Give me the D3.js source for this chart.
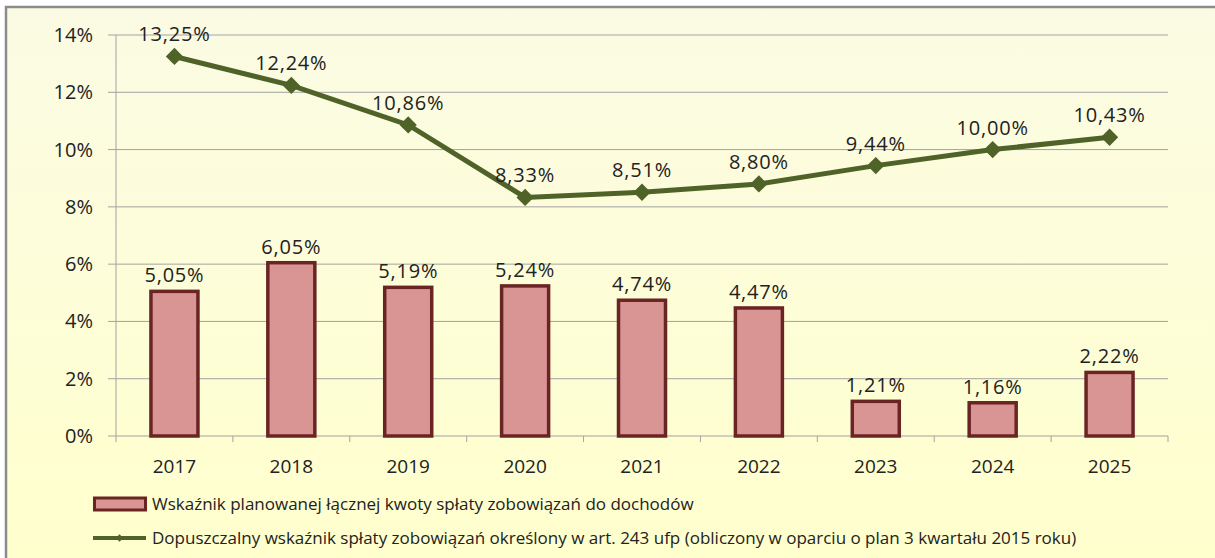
<!DOCTYPE html>
<html>
<head>
<meta charset="utf-8">
<script src="https://cdn.jsdelivr.net/npm/d3@7"></script>
<style>
  body { margin: 0; background: #fff; }
  svg text { font-family: "Open Sans", "DejaVu Sans", sans-serif; fill: #222; }
</style>
</head>
<body>
<div id="chart"></div>
<script>
// chart values
let years = ["2017", "2018", "2019", "2020", "2021", "2022", "2023", "2024", "2025"];
let barValues = [5.05, 6.05, 5.19, 5.24, 4.74, 4.47, 1.21, 1.16, 2.22];
let lineValues = [13.25, 12.24, 10.86, 8.33, 8.51, 8.80, 9.44, 10.00, 10.43];
let yTicks = [0, 2, 4, 6, 8, 10, 12, 14];
let legendLabels = [
    "Wskaźnik planowanej łącznej kwoty spłaty zobowiązań do dochodów",
    "Dopuszczalny wskaźnik spłaty zobowiązań określony w art. 243 ufp (obliczony w oparciu o plan 3 kwartału 2015 roku)"
];

let width = 1215, height = 558;
let margin = {left: 116, right: 47, top: 35, bottom: 122};

let svg = d3.select("#chart").append("svg")
    .attr("width", width)
    .attr("height", height);

// background gradient
let grad = svg.append("defs").append("linearGradient")
    .attr("id", "bg").attr("x1", 0).attr("y1", 0).attr("x2", 0).attr("y2", 1);
grad.append("stop").attr("offset", "0%").attr("stop-color", "#fbfbe4");
grad.append("stop").attr("offset", "100%").attr("stop-color", "#ffffcc");

svg.append("rect")
    .attr("x", 6).attr("y", 7)
    .attr("width", width + 10).attr("height", height + 10)
    .attr("fill", "url(#bg)")
    .attr("stroke", "#8c8c8c")
    .attr("stroke-width", 2.5);

let g = svg.append("g").attr("transform", `translate(${margin.left}, ${margin.top})`);
let innerW = width - margin.left - margin.right;
let innerH = height - margin.top - margin.bottom;

let x = d3.scaleBand().domain(years).range([0, innerW]).paddingInner(0).paddingOuter(0);
let y = d3.scaleLinear().domain([0, 14]).range([innerH, 0]);

// gridlines
g.append("g").selectAll("line").data(yTicks).enter().append("line")
    .attr("x1", -8).attr("x2", innerW)
    .attr("y1", d => y(d)).attr("y2", d => y(d))
    .attr("stroke", "#a3a3a3").attr("stroke-width", 1);

// y axis line
g.append("line").attr("x1", 0).attr("x2", 0).attr("y1", 0).attr("y2", innerH)
    .attr("stroke", "#a3a3a3");

// y tick labels
g.append("g").selectAll("text").data(yTicks).enter().append("text")
    .attr("x", -23).attr("y", d => y(d)).attr("dy", "0.35em")
    .style("text-anchor", "end").style("font-size", "20px")
    .text(d => d + "%");

// x axis ticks between categories
let xAxis = g.append("g").attr("transform", `translate(0, ${innerH})`);
let boundaries = d3.range(years.length + 1);
xAxis.selectAll("line").data(boundaries).enter().append("line")
    .attr("x1", d => d * x.step()).attr("x2", d => d * x.step())
    .attr("y1", 0).attr("y2", 6).attr("stroke", "#a3a3a3");
xAxis.selectAll("text").data(years).enter().append("text")
    .attr("x", d => x(d) + x.bandwidth() / 2).attr("y", 37)
    .style("text-anchor", "middle").style("font-size", "19px")
    .text(d => d);

// bars
let barW = 47;
g.append("g").selectAll("rect").data(barValues).enter().append("rect")
    .attr("x", (d, i) => x(years[i]) + x.bandwidth() / 2 - barW / 2)
    .attr("y", d => y(d))
    .attr("width", barW)
    .attr("height", d => innerH - y(d))
    .attr("fill", "#d99594")
    .attr("stroke", "#6b2424")
    .attr("stroke-width", 3.5);

let fmt = v => v.toFixed(2).replace(".", ",") + "%";

g.append("g").selectAll("text").data(barValues).enter().append("text")
    .attr("x", (d, i) => x(years[i]) + x.bandwidth() / 2)
    .attr("y", d => y(d) - 9)
    .style("text-anchor", "middle").style("font-size", "20px")
    .style("letter-spacing", "0.8px")
    .text(fmt);

// line series
let line = d3.line()
    .x((d, i) => x(years[i]) + x.bandwidth() / 2)
    .y(d => y(d));

g.append("path").datum(lineValues)
    .attr("d", line)
    .attr("fill", "none")
    .attr("stroke", "#4f6228")
    .attr("stroke-width", 5);

let diamond = d3.symbol().type(d3.symbolDiamond2).size(190);
g.append("g").selectAll("path").data(lineValues).enter().append("path")
    .attr("d", diamond)
    .attr("transform", (d, i) => `translate(${x(years[i]) + x.bandwidth() / 2}, ${y(d)})`)
    .attr("fill", "#4f6228");

g.append("g").selectAll("text").data(lineValues).enter().append("text")
    .attr("x", (d, i) => x(years[i]) + x.bandwidth() / 2)
    .attr("y", d => y(d) - 15)
    .style("text-anchor", "middle").style("font-size", "20px")
    .style("letter-spacing", "0.8px")
    .text(fmt);

// legend
let legend = svg.append("g").attr("transform", "translate(93, 504)");
legend.append("rect")
    .attr("x", 1.5).attr("y", -6).attr("width", 51).attr("height", 12)
    .attr("fill", "#d99594").attr("stroke", "#6b2424").attr("stroke-width", 3);
legend.append("text")
    .attr("x", 59).attr("y", 0).attr("dy", "0.35em")
    .style("font-size", "17px")
    .text(legendLabels[0]);

let legend2 = svg.append("g").attr("transform", "translate(93, 538)");
legend2.append("line")
    .attr("x1", 0).attr("x2", 53).attr("y1", 0).attr("y2", 0)
    .attr("stroke", "#4f6228").attr("stroke-width", 4);
legend2.append("path")
    .attr("d", d3.symbol().type(d3.symbolDiamond2).size(36))
    .attr("transform", "translate(26.5, 0)")
    .attr("fill", "#4f6228");
legend2.append("text")
    .attr("x", 59).attr("y", 0).attr("dy", "0.35em")
    .style("font-size", "17px")
    .text(legendLabels[1]);
</script>
</body>
</html>
